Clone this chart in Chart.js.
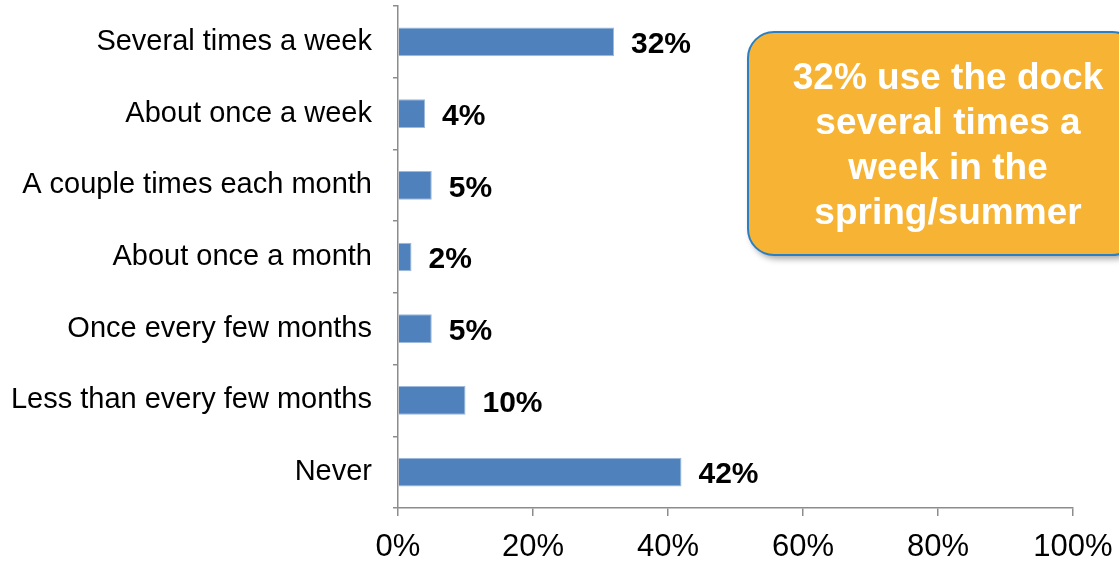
<!DOCTYPE html>
<html>
<head>
<meta charset="utf-8">
<script src="https://cdn.jsdelivr.net/npm/chart.js@4"></script>
<style>
  html, body { margin: 0; padding: 0; background: #fff; }
  #wrap { width: 1119px; height: 563px; }
</style>
</head>
<body>
<div id="wrap"><canvas id="chart" width="1119" height="563"></canvas></div>
<script>
// données
const categories = [
  "Several times a week",
  "About once a week",
  "A couple times each month",
  "About once a month",
  "Once every few months",
  "Less than every few months",
  "Never"
];
const values = [32, 4, 5, 2, 5, 10, 42];
const calloutLines = ["32% use the dock", "several times a", "week in the", "spring/summer"];

const FONT = "'Liberation Sans', Arial, sans-serif";
const AXIS_GREY = "#8c8c8c";

// ==================== étiquettes de valeur ===================
const valueLabels = {
  id: "valueLabels",
  afterDatasetsDraw(chart) {
    const ctx = chart.ctx;
    const meta = chart.getDatasetMeta(0);
    ctx.save();
    ctx.font = "bold 30px " + FONT;
    ctx.fillStyle = "#000";
    ctx.textBaseline = "middle";
    ctx.textAlign = "left";
    meta.data.forEach((bar, i) => {
      ctx.fillText(values[i] + "%", bar.x + 17, bar.y + 3);
    });
    ctx.restore();
  }
};

// ==================== encadré orange ===================
const callout = {
  id: "callout",
  afterDraw(chart) {
    const ctx = chart.ctx;
    ctx.save();
    ctx.beginPath();
    ctx.roundRect(748, 32, 390, 223, 26);
    ctx.shadowColor = "rgba(0,0,0,0.35)";
    ctx.shadowBlur = 6;
    ctx.shadowOffsetX = 3;
    ctx.shadowOffsetY = 4;
    ctx.fillStyle = "#f7b334";
    ctx.fill();
    ctx.shadowColor = "transparent";
    ctx.lineWidth = 2;
    ctx.strokeStyle = "#2a7fc4";
    ctx.stroke();
    ctx.font = "bold 37px " + FONT;
    ctx.fillStyle = "#fff";
    ctx.textAlign = "center";
    ctx.textBaseline = "middle";
    calloutLines.forEach((line, i) => {
      ctx.fillText(line, 948, 79 + i * 45);
    });
    ctx.restore();
  }
};

const chart = new Chart(document.getElementById("chart").getContext("2d"), {
  type: "bar",
  data: {
    labels: categories,
    datasets: [
      {
        data: values,
        backgroundColor: "#4f81bd",
        borderColor: "#9db9dc",
        borderWidth: 1,
        barPercentage: 0.4,
        categoryPercentage: 1
      }
    ]
  },
  options: {
    indexAxis: "y",
    responsive: false,
    animation: false,
    layout: { padding: { top: 6, right: 46, left: 0, bottom: 0 } },
    plugins: {
      legend: { display: false },
      tooltip: { enabled: false }
    },
    scales: {
      x: {
        min: 0,
        max: 100,
        ticks: {
          stepSize: 20,
          padding: 13,
          color: "#000",
          font: { family: FONT, size: 31 },
          callback: (v) => v + "%"
        },
        grid: {
          drawOnChartArea: false,
          drawTicks: true,
          tickLength: 8,
          color: AXIS_GREY,
          lineWidth: 1.5
        },
        border: { color: AXIS_GREY, width: 1.5 },
        afterFit(scale) {
          scale.height = 55;
          scale.paddingLeft = 0;
          scale.paddingRight = 0;
        }
      },
      y: {
        ticks: {
          padding: 21,
          color: "#000",
          font: { family: FONT, size: 29 }
        },
        grid: {
          offset: true,
          drawOnChartArea: false,
          drawTicks: true,
          tickLength: 5,
          color: AXIS_GREY,
          lineWidth: 1.5
        },
        border: { color: AXIS_GREY, width: 1.5 },
        afterFit(scale) {
          scale.width = 398;
          scale.paddingTop = 0;
          scale.paddingBottom = 0;
        }
      }
    }
  },
  plugins: [valueLabels, callout]
});
</script>
</body>
</html>
